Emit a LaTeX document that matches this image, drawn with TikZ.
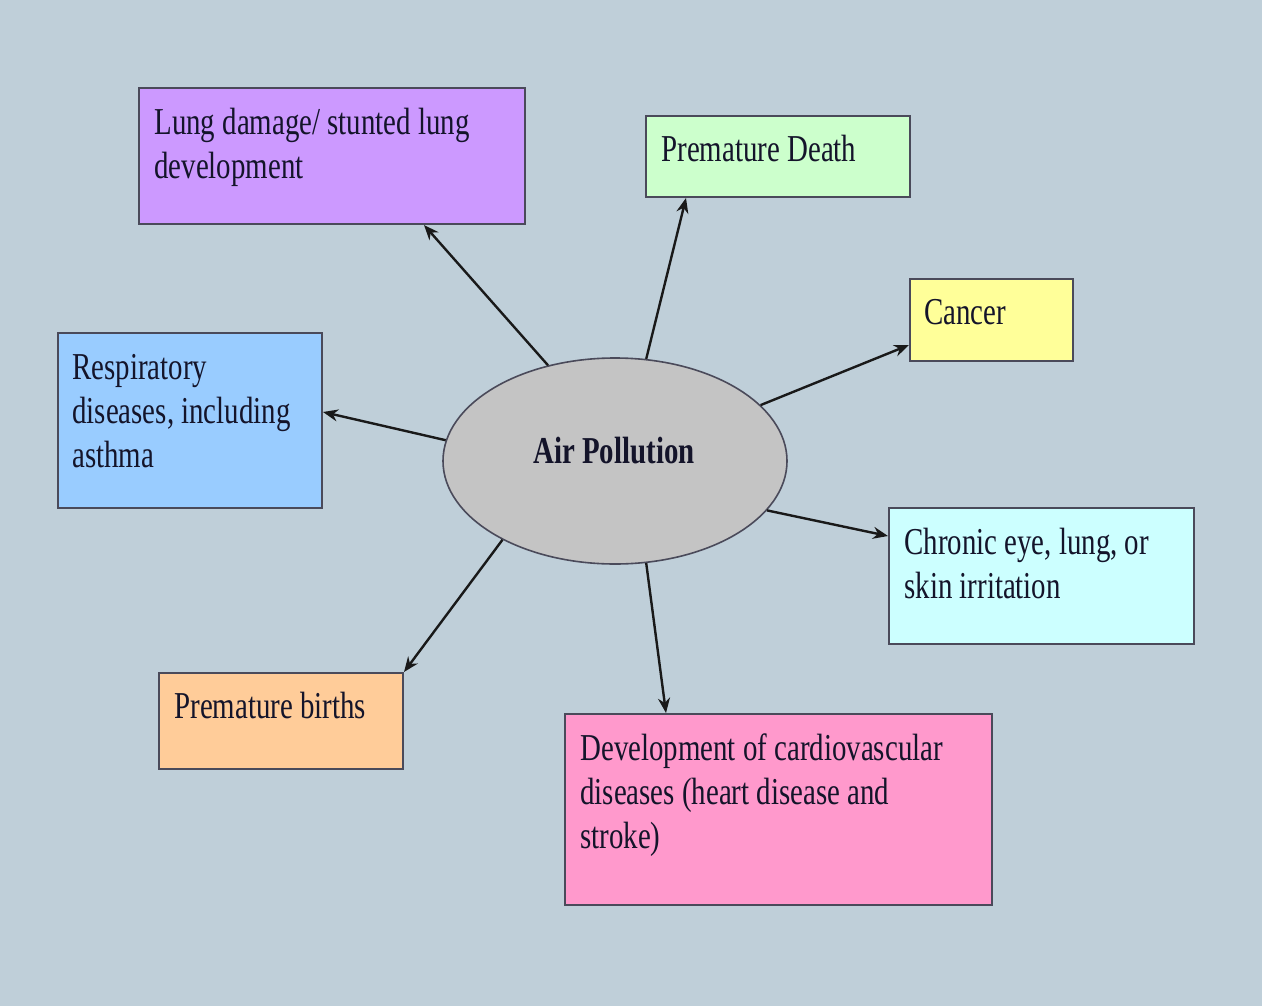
\documentclass[tikz,border=0pt]{standalone}
\usepackage{fontspec}
\setmainfont{Liberation Serif}[FakeStretch=0.76]
\usetikzlibrary{arrows.meta,shapes.geometric}
\definecolor{bgc}{HTML}{BFCFD9}
\definecolor{boxline}{HTML}{4A4A5A}
\definecolor{cpurple}{HTML}{CC99FF}
\definecolor{cgreen}{HTML}{CCFFCC}
\definecolor{cyellow}{HTML}{FFFF99}
\definecolor{cblue}{HTML}{99CCFF}
\definecolor{ccyan}{HTML}{CCFFFF}
\definecolor{corange}{HTML}{FFCC99}
\definecolor{cpink}{HTML}{FF99CC}
\definecolor{cgray}{HTML}{C4C4C4}
\definecolor{txtc}{HTML}{14142A}
\tikzset{
  box/.style={draw=boxline, line width=1pt, inner sep=0pt, anchor=north west},
  txt/.style={anchor=base west, inner sep=0pt, align=left, text=txtc, font=\fontsize{19}{22}\selectfont},
  arr/.style={draw=black!90, line width=1.2pt, -{Stealth[length=7.5pt,width=6pt]}}
}
\begin{document}
\begin{tikzpicture}[x=0.5pt,y=-0.5pt]
\fill[bgc] (0,0) rectangle (1262,1006);
\useasboundingbox (0,0) rectangle (1262,1006);

\node[box, fill=cpurple, minimum width=193pt, minimum height=68pt] (lung) at (138,87) {};
\node[txt] (tlung) at (154,178) {Lung damage/ stunted lung\\development};

\node[box, fill=cgreen, minimum width=132pt, minimum height=40.5pt] (death) at (645,115) {};
\node[txt] (tdeath) at (661,161) {Premature Death};

\node[box, fill=cyellow, minimum width=81.5pt, minimum height=41pt] (cancer) at (909,278) {};
\node[txt] (tcancer) at (924,324) {Cancer};

\node[box, fill=cblue, minimum width=132pt, minimum height=87.5pt] (resp) at (57,332) {};
\node[txt] (tresp) at (72,467) {Respiratory\\diseases, including\\asthma};

\node[box, fill=ccyan, minimum width=152.5pt, minimum height=68pt] (chronic) at (888,507) {};
\node[txt] (tchronic) at (904,598) {Chronic eye, lung, or\\skin irritation};

\node[box, fill=corange, minimum width=122pt, minimum height=48pt] (births) at (158,672) {};
\node[txt] (tbirths) at (174,718) {Premature births};

\node[box, fill=cpink, minimum width=213.5pt, minimum height=95.5pt] (dev) at (564,713) {};
\node[txt] (tdev) at (580,848) {Development of cardiovascular\\diseases (heart disease and\\stroke)};

\node[ellipse, draw=boxline, line width=0.8pt, fill=cgray, minimum width=172pt, minimum height=103pt, inner sep=0pt] (air) at (615,461) {};
\node[txt, anchor=base, font=\fontsize{19}{22}\selectfont\bfseries] (tair) at (614,463) {Air Pollution};

\draw[arr] (air.125.4) -- ([xshift=143pt]lung.south west);
\draw[arr] (air.73) -- ([xshift=20.5pt]death.south west);
\draw[arr] (air.21.6) -- ([yshift=-33.5pt]cancer.north west);
\draw[arr] (air.173) -- ([yshift=-40pt]resp.north east);
\draw[arr] (air.342.5) -- ([yshift=-14.5pt]chronic.north west);
\draw[arr] (air.215.2) -- (births.north east);
\draw[arr] (air.287.4) -- ([xshift=51pt]dev.north west);
\end{tikzpicture}
\end{document}
